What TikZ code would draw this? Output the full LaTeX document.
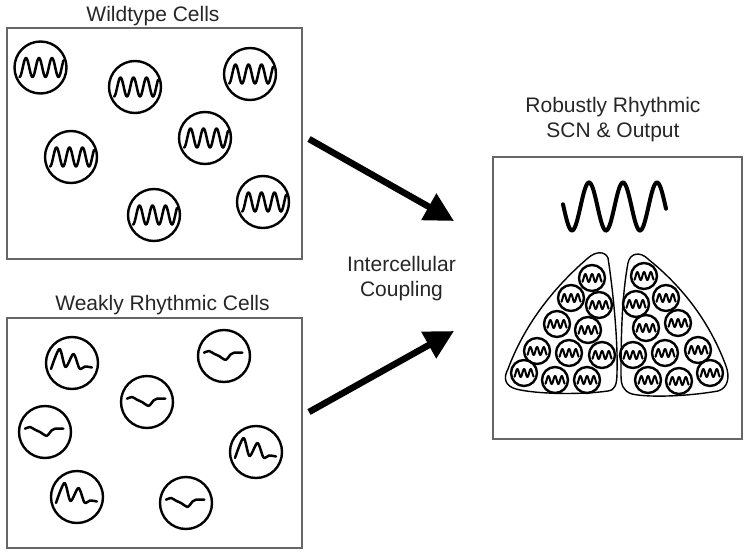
\documentclass[tikz,border=0pt]{standalone}
\usepackage{fontspec}
\setmainfont{Liberation Sans}
\usetikzlibrary{arrows.meta}
\begin{document}
\begin{tikzpicture}[x=1pt, y=-1pt,
  panel/.style={draw=black!60, line width=1.4pt, inner sep=0pt, outer sep=0pt},
  lbl/.style={font=\fontsize{21}{25}\selectfont, text=black!85, inner sep=0pt, align=center},
  cell/.style={circle, draw, line width=2.4pt, minimum size=52pt, inner sep=0pt},
  wave/.style={line width=2.5pt, line join=round, line cap=round},
  wtcell/.style={cell, path picture={\draw[wave, shift={(path picture bounding box.center)}]
    plot[domain=-21:23, samples=80] (\x,{9.5*cos((\x+21)/13*360)});}},
  dampcell/.style={cell, path picture={\draw[wave, shift={(path picture bounding box.center)}]
    plot[smooth, tension=0.5] coordinates {(-21,6) (-12.5,-14) (-6.5,4) (1.5,-9) (7.5,5.5) (13,3.5) (20,4.5)};}},
  dipcell/.style={cell, path picture={\draw[wave, shift={(path picture bounding box.center)}]
    plot[smooth] coordinates {(-20,-3.3) (-15,-5) (-10,-2.3) (-5,0) (1.7,3.8) (6.7,-1.7) (10,-3.3) (18.3,-3.3)};}},
  scncell/.style={circle, draw, line width=2.4pt, minimum size=26pt, inner sep=0pt,
    path picture={\draw[line width=2pt, line join=round, shift={(path picture bounding box.center)}]
    plot[domain=-10:10, samples=50] (\x,{4*cos((\x+10)/6.7*360)});}},
  lobe/.style={draw, line width=1.4pt},
  bigarrow/.style={line width=6.5pt, -{Triangle[length=29pt, width=29pt]}}]
  \useasboundingbox (0,0) rectangle (750,554);

  \node[panel, minimum width=295pt, minimum height=231pt] (wt) at (154.5,143.5) {};
  \node[panel, minimum width=295pt, minimum height=230pt] (weak) at (154.5,433) {};
  \node[panel, minimum width=249pt, minimum height=282pt] (scn) at (617.5,298) {};

  \node[lbl, anchor=base] (wtlbl) at (153,21) {Wildtype Cells};
  \node[lbl, anchor=base] (weaklbl) at (162.5,310) {Weakly Rhythmic Cells};
  \node[lbl] (couple) at (401.5,279) {Intercellular\\Coupling};
  \node[lbl] (scnlbl) at (613,119.5) {Robustly Rhythmic\\SCN \& Output};

  \node[wtcell] (w1) at (40.5,67.5) {};
  \node[wtcell] (w2) at (135,87) {};
  \node[wtcell] (w3) at (250,74) {};
  \node[wtcell] (w4) at (71,157) {};
  \node[wtcell] (w5) at (205,138) {};
  \node[wtcell] (w6) at (154,215) {};
  \node[wtcell] (w7) at (263,202) {};

  \node[dampcell] (d1) at (72,363) {};
  \node[dipcell] (d2) at (224,356) {};
  \node[dipcell] (d3) at (147,402) {};
  \node[dipcell] (d4) at (45,432) {};
  \node[dampcell] (d5) at (256,452) {};
  \node[dampcell] (d6) at (77,497) {};
  \node[dipcell] (d7) at (186,503) {};

  \coordinate (a1s) at (309,139);
  \coordinate (a1e) at (454,221);
  \coordinate (a2s) at (309,412);
  \coordinate (a2e) at (454,331);
  \draw[bigarrow] (a1s) -- (a1e);
  \draw[bigarrow] (a2s) -- (a2e);

  \draw[line width=4pt, line cap=round] plot[domain=563:666, samples=120] (\x,{206.5+24*cos((\x-572)/34*360)});

  \draw[lobe] (608,258) .. controls (613,290) and (618,340) .. (617,372)
    .. controls (617,385) and (615,390) .. (608,391)
    .. controls (580,395) and (535,394) .. (516,389)
    .. controls (505,386) and (503,378) .. (508,369)
    .. controls (524,326) and (552,289) .. (588,258)
    .. controls (596,251) and (605,251) .. cycle;
  \draw[lobe] (628,263) .. controls (630,253) and (640,251) .. (648,259)
    .. controls (684,288) and (710,323) .. (726,366)
    .. controls (730,377) and (728,388) .. (718,391)
    .. controls (690,396) and (650,398) .. (632,394)
    .. controls (623,391) and (621,385) .. (621,375)
    .. controls (621,335) and (622,295) .. cycle;

  \foreach \p [count=\n] in {(592,278),(571,298),(599,305),(557,324),(588,330),(537,351),
      (569,353),(602,355),(524,373),(555,380),(587,380)}
    \node[scncell] (l\n) at \p {};
  \foreach \p [count=\n] in {(644,276),(636,304),(666,298),(646,328),(678,323),(633,355),
      (665,353),(698,350),(648,380),(679,381),(710,373)}
    \node[scncell] (r\n) at \p {};
\end{tikzpicture}
\end{document}
